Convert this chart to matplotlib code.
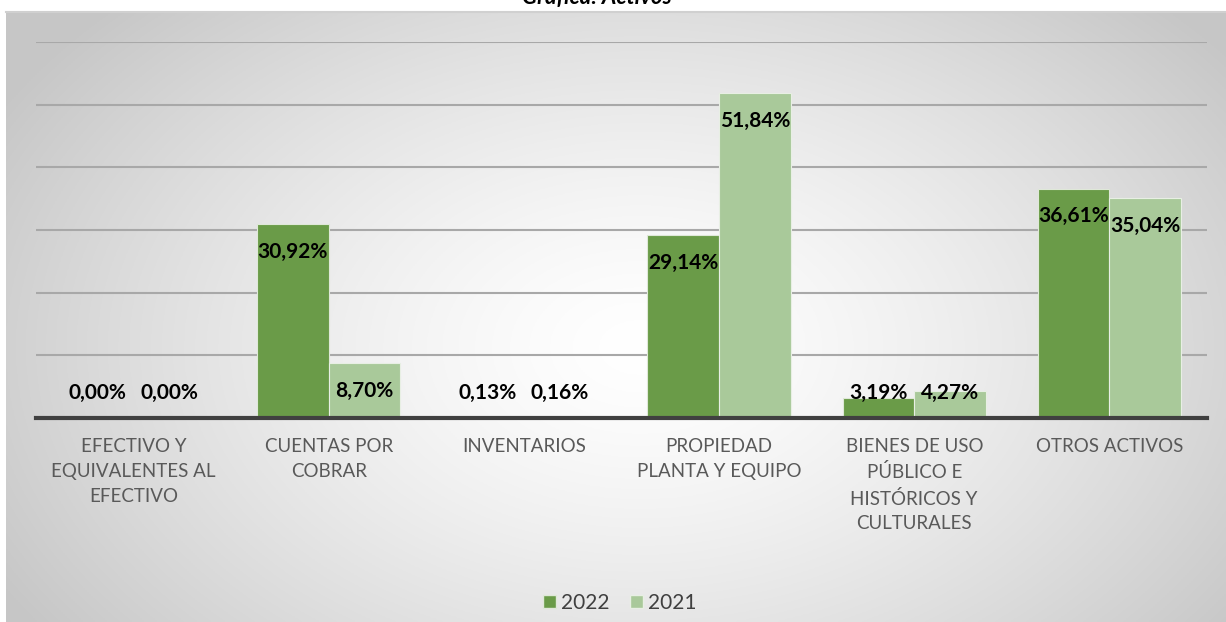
import numpy as np
import matplotlib
matplotlib.use("Agg")
import matplotlib.pyplot as plt
from matplotlib.patches import Patch

# Données du graphique
categorias = [
    "EFECTIVO Y\nEQUIVALENTES AL\nEFECTIVO",
    "CUENTAS POR\nCOBRAR",
    "INVENTARIOS",
    "PROPIEDAD\nPLANTA Y EQUIPO",
    "BIENES DE USO\nPÚBLICO E\nHISTÓRICOS Y\nCULTURALES",
    "OTROS ACTIVOS",
]
valores_2022 = [0.00, 30.92, 0.13, 29.14, 3.19, 36.61]
valores_2021 = [0.00, 8.70, 0.16, 51.84, 4.27, 35.04]
serie_labels = ["2022", "2021"]

color_2022 = "#6a9b48"
color_2021 = "#a9c99a"
fuente = ["Lato", "DejaVu Sans"]

W, H = 1226, 622
fig = plt.figure(figsize=(W / 100, H / 100), dpi=100)
fig.patch.set_facecolor("white")

# Fond en dégradé radial (zone du graphique)
bg = fig.add_axes([6 / W, 0, 1 - 6 / W, (H - 12) / H])
nx, ny = 600, 300
xx, yy = np.meshgrid(np.linspace(0, 1, nx), np.linspace(0, 1, ny))
r = np.sqrt(((xx - 0.52) / 0.6) ** 2 + ((yy - 0.55) / 0.8) ** 2)
r = np.clip(r, 0, 1)
niveau = 1.0 - 0.22 * r ** 1.4
img = np.dstack([niveau, niveau, niveau])
bg.imshow(img, extent=[0, 1, 0, 1], aspect="auto", origin="upper")
bg.set_xlim(0, 1)
bg.set_ylim(0, 1)
bg.axis("off")
bg.plot([0, 1], [1, 1], color="#d0d0d0", lw=1.5, clip_on=False)

# Axes principaux
ax = fig.add_axes([36 / W, 1 - 418 / H, (1207 - 36) / W, (418 - 42) / H])
ax.patch.set_alpha(0)
x = np.arange(len(categorias))
larg = 0.367
ax.bar(x - larg / 2, valores_2022, larg, color=color_2022,
       edgecolor="#dfe8d8", linewidth=0.8, zorder=3, label=serie_labels[0])
ax.bar(x + larg / 2, valores_2021, larg, color=color_2021,
       edgecolor="#e8efe4", linewidth=0.8, zorder=3, label=serie_labels[1])

ax.set_xlim(-0.5, len(categorias) - 0.5)
ax.set_ylim(0, 60)
ax.set_yticks(np.arange(0, 61, 10))
ax.yaxis.grid(True, color="#a8a8a8", lw=1.5, zorder=1)
ax.tick_params(axis="y", left=False, labelleft=False)
ax.tick_params(axis="x", bottom=False, pad=11)
for s in ["top", "right", "left"]:
    ax.spines[s].set_visible(False)
ax.spines["bottom"].set_color("#404040")
ax.spines["bottom"].set_linewidth(3)
ax.spines["bottom"].set_zorder(4)

ax.set_xticks(x)
ax.set_xticklabels(categorias, fontsize=13.5, color="#595959", family=fuente,
                   linespacing=1.55, va="top")

# Étiquettes de données
for pos, vals in [(x - larg / 2, valores_2022), (x + larg / 2, valores_2021)]:
    for xi, v in zip(pos, vals):
        ly = max(v - 4.4, 4.0)
        ax.text(xi, ly, f"{v:.2f}%".replace(".", ","), ha="center", va="center",
                fontsize=15, fontweight="bold", color="black", family=fuente,
                zorder=5)

# Légende
handles = [Patch(facecolor=color_2022, edgecolor="#dfe8d8", label=serie_labels[0]),
           Patch(facecolor=color_2021, edgecolor="#e8efe4", label=serie_labels[1])]
leg = fig.legend(handles=handles, loc="center", bbox_to_anchor=(620 / W, 1 - 603 / H),
                 ncol=2, frameon=False, handlelength=0.6,
                 handleheight=0.6, handletextpad=0.25, columnspacing=1.0,
                 prop={"family": fuente, "size": 15})
for t in leg.get_texts():
    t.set_color("#404040")

# Titre (coupé en haut, comme sur l'original)
fig.text(597 / W, 1 - 4 / H, "Gráfica: Activos", ha="center", va="baseline",
         fontsize=16, fontweight="bold", fontstyle="italic", family=fuente)

fig.savefig("out.png", dpi=100)
